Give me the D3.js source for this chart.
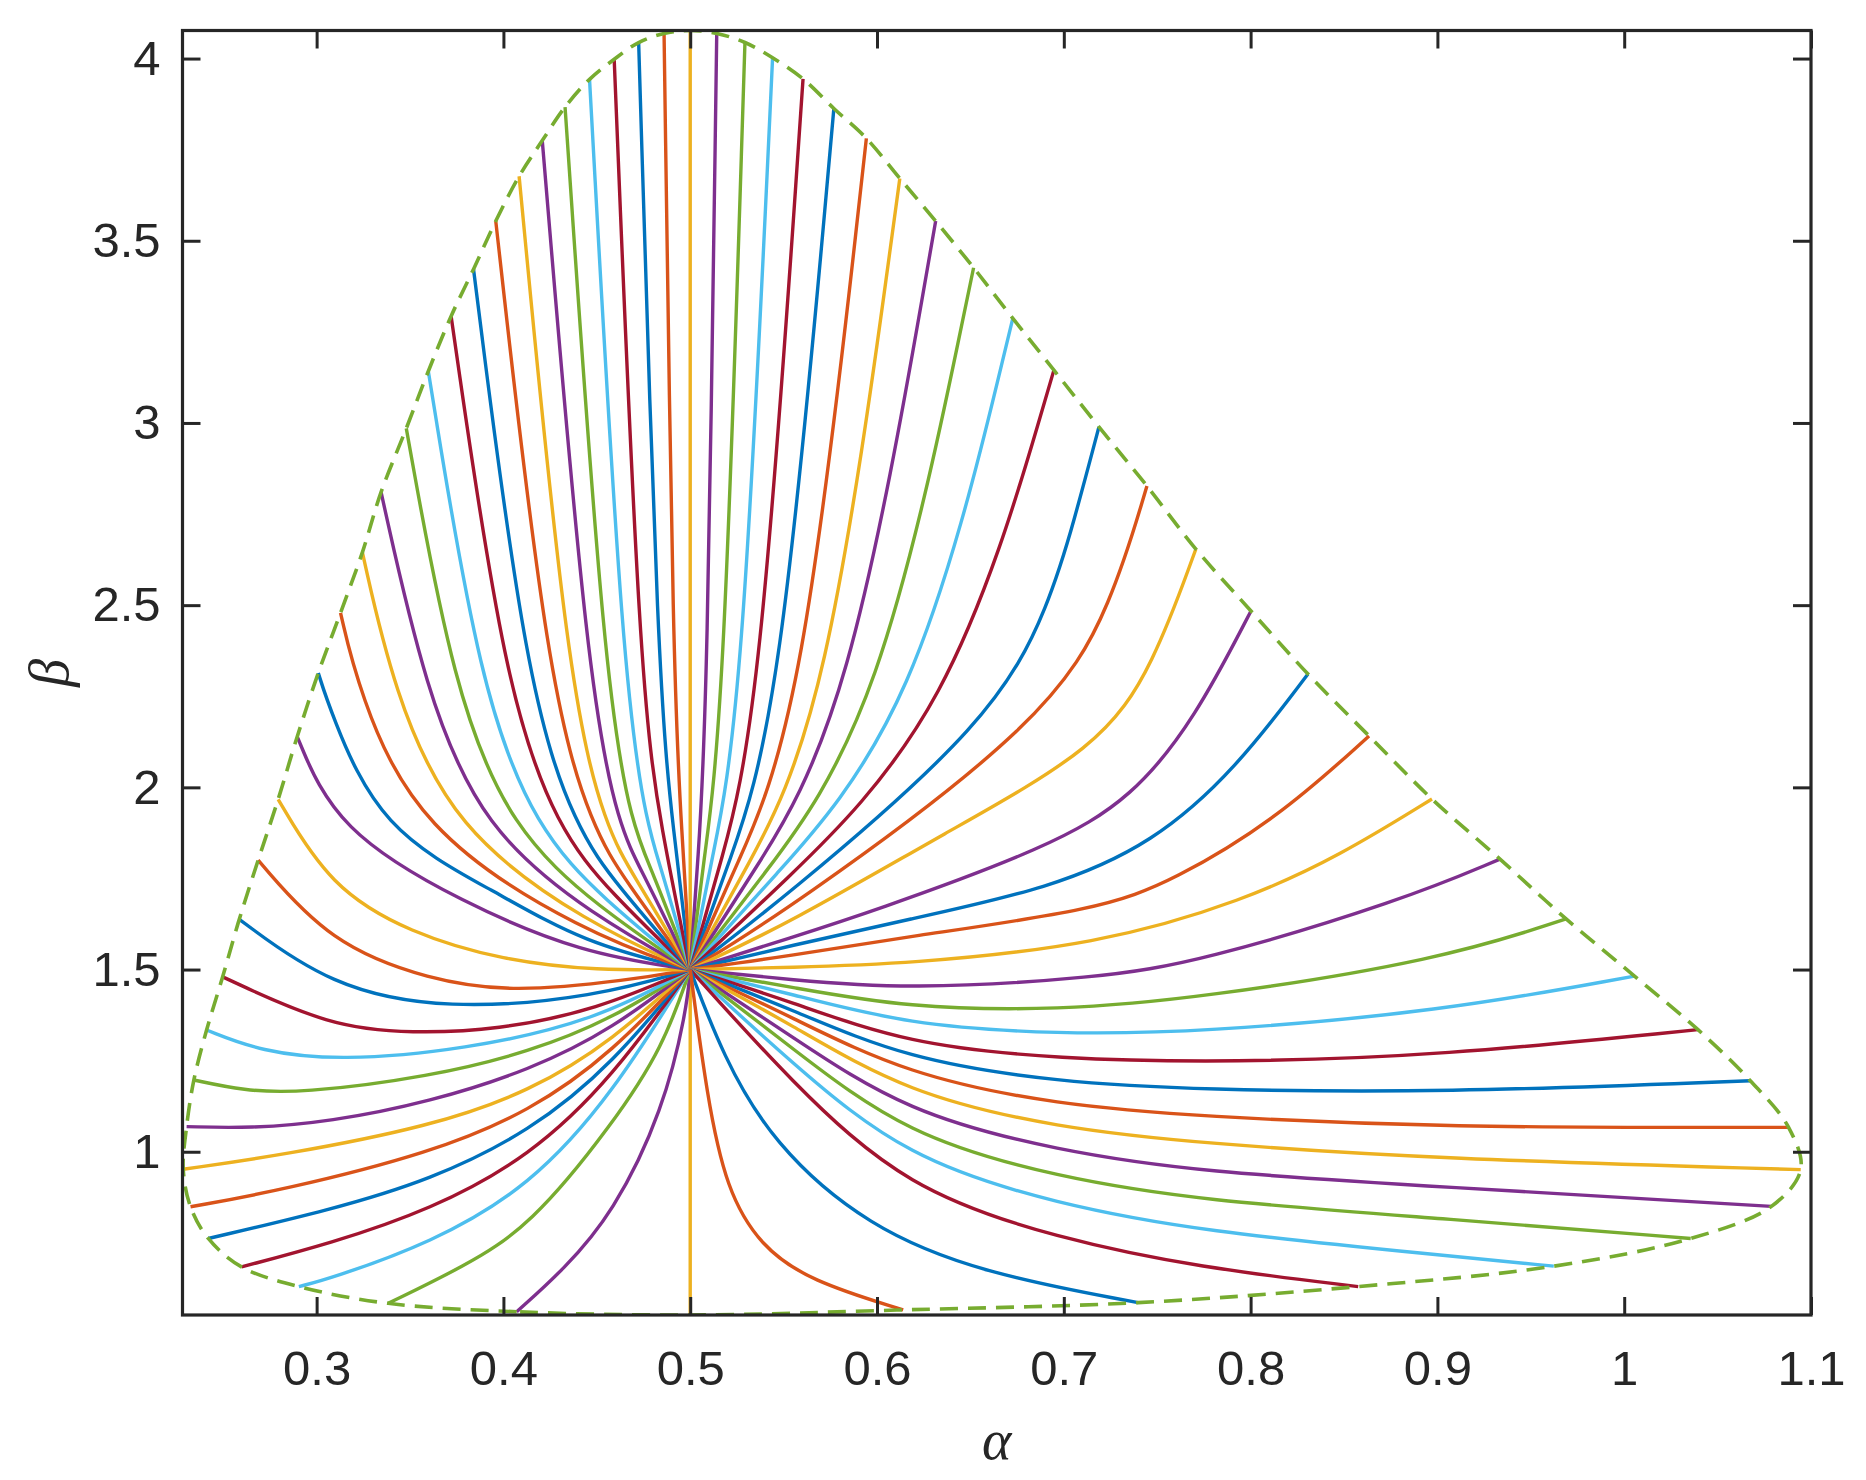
<!DOCTYPE html>
<html>
<head>
<meta charset="utf-8">
<script src="https://cdn.jsdelivr.net/npm/d3@7"></script>
<style>
  body { margin: 0; background: #fff; }
  .tick text { font-family: "Liberation Sans", Arial, sans-serif; font-size: 49px; fill: #262626; }
</style>
</head>
<body>
<svg id="chart" width="1866" height="1480"></svg>
<script>
// every curve leaves the common point and ends on the dashed boundary
const origin = [0.5, 1.5];

const xTicks = [0.3, 0.4, 0.5, 0.6, 0.7, 0.8, 0.9, 1, 1.1];
const yTicks = [1, 1.5, 2, 2.5, 3, 3.5, 4];
const xDomain = [0.2282, 1.1];
const yDomain = [0.552, 4.077];

// [colour order index, points from the boundary towards the origin]
const leftLower = [
  [3, [[0.4071, 0.561], [0.432, 0.675], [0.4588, 0.831], [0.4856, 1.114], [0.4981, 1.389]]],
  [4, [[0.3383, 0.584], [0.3785, 0.684], [0.4142, 0.794], [0.4588, 1.078], [0.4856, 1.288]]],
  [5, [[0.2905, 0.630], [0.3071, 0.652], [0.3607, 0.748], [0.4142, 0.904], [0.4588, 1.160]]],
  [6, [[0.2598, 0.684], [0.3071, 0.748], [0.3607, 0.840], [0.4142, 0.986], [0.4588, 1.206]]],
  [0, [[0.2420, 0.762], [0.3071, 0.840], [0.3607, 0.922], [0.4142, 1.055], [0.4588, 1.242]]],
  [1, [[0.2325, 0.849], [0.2821, 0.895], [0.3607, 0.996], [0.4142, 1.110], [0.4588, 1.274]]],
  [2, [[0.2286, 0.952], [0.2821, 0.991], [0.3607, 1.069], [0.4142, 1.165], [0.4588, 1.306]]],
  [3, [[0.2304, 1.069], [0.2642, 1.064], [0.3071, 1.082], [0.3607, 1.137], [0.4142, 1.224], [0.4588, 1.338]]],
  [4, [[0.2343, 1.197], [0.2607, 1.168], [0.2910, 1.160], [0.3607, 1.206], [0.4142, 1.274], [0.4588, 1.366]]],
  [5, [[0.2411, 1.334], [0.2700, 1.275], [0.3125, 1.250], [0.3785, 1.279], [0.4499, 1.360]]],
  [6, [[0.2497, 1.480], [0.3071, 1.343], [0.3517, 1.325], [0.3963, 1.334], [0.4499, 1.389]]],
  [0, [[0.2586, 1.638], [0.3071, 1.453], [0.3700, 1.388], [0.4499, 1.425]]],
  [1, [[0.2687, 1.800], [0.3071, 1.572], [0.3607, 1.471], [0.4053, 1.437], [0.4677, 1.471]]],
  [2, [[0.2794, 1.967], [0.3071, 1.727], [0.3500, 1.600], [0.4000, 1.525], [0.4500, 1.497]]]
];

const leftUpper = [
  [3, [[0.2896, 2.139], [0.3106, 1.883], [0.3785, 1.682], [0.4417, 1.545]]],
  [0, [[0.3009, 2.314], [0.3071, 2.212], [0.3338, 1.883], [0.3963, 1.712], [0.4429, 1.573]]],
  [1, [[0.3128, 2.479], [0.3223, 2.267], [0.3535, 1.883], [0.4443, 1.598]]],
  [2, [[0.3245, 2.645], [0.3410, 2.267], [0.3731, 1.883], [0.4462, 1.623]]],
  [3, [[0.3345, 2.810], [0.3580, 2.267], [0.3892, 1.883], [0.4485, 1.646]]],
  [4, [[0.3480, 2.985], [0.3732, 2.267], [0.4043, 1.883], [0.4512, 1.669]]],
  [5, [[0.3598, 3.142], [0.3874, 2.267], [0.4177, 1.883], [0.4542, 1.690]]],
  [6, [[0.3720, 3.293], [0.4008, 2.267], [0.4293, 1.883], [0.4576, 1.710]]],
  [0, [[0.3840, 3.422], [0.4124, 2.267], [0.4391, 1.883], [0.4614, 1.728]]],
  [1, [[0.3959, 3.554], [0.4240, 2.267], [0.4480, 1.883], [0.4654, 1.744]]],
  [2, [[0.4084, 3.677], [0.4347, 2.267], [0.4552, 1.883], [0.4697, 1.759]]],
  [3, [[0.4208, 3.775], [0.4454, 2.267], [0.4623, 1.883], [0.4742, 1.771]]],
  [4, [[0.4330, 3.867], [0.4543, 2.267], [0.4695, 1.883], [0.4789, 1.782]]],
  [5, [[0.4461, 3.943], [0.4642, 2.267], [0.4775, 1.883], [0.4838, 1.790]]],
  [6, [[0.4593, 3.998], [0.4731, 2.267], [0.4845, 1.883]]],
  [0, [[0.4724, 4.044], [0.4829, 2.267], [0.4910, 1.883]]],
  [1, [[0.4860, 4.069], [0.4910, 2.267], [0.4955, 1.883]]]
];

const topCentre = [
  [2, [[0.5, 4.077]]]
];

const rightUpper = [
  [3, [[0.5142, 4.069], [0.5090, 2.185], [0.5041, 1.801]]],
  [4, [[0.5293, 4.044], [0.5178, 2.185], [0.5072, 1.799]]],
  [5, [[0.5441, 4.002], [0.5274, 2.185], [0.5112, 1.796]]],
  [6, [[0.5604, 3.944], [0.5369, 2.185], [0.5162, 1.790]]],
  [0, [[0.5769, 3.863], [0.5477, 2.185], [0.5201, 1.784]]],
  [1, [[0.5943, 3.781], [0.5597, 2.185], [0.5239, 1.776]]],
  [2, [[0.6122, 3.671], [0.5728, 2.185], [0.5285, 1.764]]],
  [3, [[0.6314, 3.554], [0.5848, 2.185], [0.5321, 1.753]]],
  [4, [[0.6517, 3.426], [0.6015, 2.185], [0.5362, 1.738]]],
  [5, [[0.6727, 3.287], [0.6206, 2.185], [0.5394, 1.724]]],
  [6, [[0.6947, 3.145], [0.6397, 2.185], [0.5431, 1.706]]],
  [0, [[0.7188, 2.989], [0.7057, 2.735], [0.6926, 2.507], [0.6624, 2.185], [0.5470, 1.682]]],
  [1, [[0.7445, 2.827], [0.7259, 2.507], [0.6926, 2.189], [0.5505, 1.656]]],
  [2, [[0.7707, 2.654], [0.7481, 2.337], [0.7192, 2.109], [0.6361, 1.874], [0.5534, 1.628]]],
  [3, [[0.8002, 2.484], [0.7703, 2.189], [0.7370, 1.973], [0.6926, 1.836], [0.5951, 1.655], [0.5553, 1.590]]]
];

const rightLower = [
  [0, [[0.8307, 2.311], [0.7924, 2.052], [0.7481, 1.847], [0.6926, 1.722], [0.6156, 1.636], [0.5541, 1.566]]],
  [1, [[0.8634, 2.141], [0.8147, 1.916], [0.7592, 1.745], [0.7188, 1.664], [0.6156, 1.590], [0.5541, 1.538]]],
  [2, [[0.8971, 1.968], [0.8480, 1.813], [0.7969, 1.690], [0.7188, 1.568], [0.6156, 1.515], [0.5541, 1.506]]],
  [3, [[0.9335, 1.803], [0.8812, 1.690], [0.7730, 1.522], [0.7188, 1.477], [0.6156, 1.445], [0.5541, 1.472]]],
  [4, [[0.9689, 1.639], [0.9021, 1.527], [0.7730, 1.422], [0.6975, 1.388], [0.6156, 1.395], [0.5541, 1.452]]],
  [5, [[1.0055, 1.482], [0.9021, 1.385], [0.7730, 1.328], [0.6975, 1.322], [0.6156, 1.349], [0.5541, 1.433]]],
  [6, [[1.0395, 1.335], [0.9021, 1.264], [0.7900, 1.245], [0.6975, 1.254], [0.6156, 1.296], [0.5541, 1.412]]],
  [0, [[1.0675, 1.195], [0.9021, 1.162], [0.7730, 1.170], [0.6975, 1.191], [0.6156, 1.254], [0.5541, 1.391]]],
  [1, [[1.0880, 1.067], [0.9021, 1.066], [0.7730, 1.097], [0.6975, 1.128], [0.6156, 1.212], [0.5541, 1.370]]],
  [2, [[1.0945, 0.951], [0.9021, 0.980], [0.7730, 1.023], [0.6975, 1.065], [0.6156, 1.160], [0.5541, 1.349]]],
  [3, [[1.0788, 0.850], [0.9021, 0.904], [0.7730, 0.944], [0.6975, 1.002], [0.6156, 1.107], [0.5541, 1.317]]],
  [4, [[1.0356, 0.762], [0.9021, 0.817], [0.7730, 0.866], [0.6975, 0.929], [0.6156, 1.044], [0.5541, 1.286]]],
  [5, [[0.9623, 0.686], [0.9021, 0.716], [0.7730, 0.782], [0.6975, 0.855], [0.6156, 0.981], [0.5541, 1.244]]],
  [6, [[0.8576, 0.630], [0.7730, 0.682], [0.6975, 0.761], [0.6156, 0.897], [0.5541, 1.191]]],
  [0, [[0.7398, 0.586], [0.6566, 0.666], [0.5951, 0.792], [0.5439, 1.023], [0.5173, 1.265]]],
  [1, [[0.6140, 0.566], [0.5644, 0.645], [0.5377, 0.740], [0.5193, 0.897], [0.5090, 1.150]]]
];

const bottomCentre = [
  [2, [[0.5, 0.552]]]
];

// MATLAB default colour order
const palette = ["#0072BD", "#D95319", "#EDB120", "#7E2F8E", "#77AC30", "#4DBEEE", "#A2142F"];

const box = { left: 182.5, right: 1811, top: 30.5, bottom: 1315 };

const svg = d3.select("#chart");

const x = d3.scaleLinear().domain(xDomain).range([box.left, box.right]);
const y = d3.scaleLinear().domain(yDomain).range([box.bottom, box.top]);

svg.append("defs").append("clipPath").attr("id", "plot-clip")
  .append("rect")
  .attr("x", box.left).attr("y", box.top)
  .attr("width", box.right - box.left).attr("height", box.bottom - box.top);

const plot = svg.append("g").attr("clip-path", "url(#plot-clip)");

const line = d3.line()
  .x(d => x(d[0]))
  .y(d => y(d[1]))
  .curve(d3.curveBasis);

// boundary order: bottom, up the left side, over the top, down the right side
const groups = [bottomCentre, leftLower, leftUpper, topCentre, rightUpper, rightLower];
const allCurves = groups.flat();

plot.selectAll("path.traj")
  .data(allCurves)
  .enter()
  .append("path")
  .attr("class", "traj")
  .attr("d", d => line(d[1].concat([origin])))
  .attr("fill", "none")
  .attr("stroke", d => palette[d[0]])
  .attr("stroke-width", 3.4)
  .attr("stroke-linejoin", "round");

const boundary = allCurves.map(d => d[1][0]);

plot.append("path")
  .datum(boundary)
  .attr("d", d3.line()
    .x(d => x(d[0]))
    .y(d => y(d[1]))
    .curve(d3.curveCatmullRomClosed.alpha(0.5)))
  .attr("fill", "none")
  .attr("stroke", "#77AC30")
  .attr("stroke-width", 3.6)
  .attr("stroke-dasharray", "18,10");

// axes with inward ticks on all four sides
const tickLen = 18;
const axisColor = "#262626";

const styleAxis = g => {
  g.select(".domain").remove();
  g.selectAll(".tick line").attr("stroke", axisColor).attr("stroke-width", 3);
};

svg.append("g")
  .attr("transform", `translate(0,${box.bottom})`)
  .call(d3.axisBottom(x).tickValues(xTicks).tickSize(-tickLen).tickPadding(35).tickFormat(d3.format("")))
  .call(styleAxis);

svg.append("g")
  .attr("transform", `translate(0,${box.top})`)
  .call(d3.axisTop(x).tickValues(xTicks).tickSize(-tickLen).tickFormat(""))
  .call(styleAxis);

svg.append("g")
  .attr("transform", `translate(${box.left},0)`)
  .call(d3.axisLeft(y).tickValues(yTicks).tickSize(-tickLen).tickPadding(22).tickFormat(d3.format("")))
  .call(styleAxis);

svg.append("g")
  .attr("transform", `translate(${box.right},0)`)
  .call(d3.axisRight(y).tickValues(yTicks).tickSize(-tickLen).tickFormat(""))
  .call(styleAxis);

svg.selectAll(".tick text").attr("font-family", null).attr("font-size", null);

svg.append("rect")
  .attr("x", box.left).attr("y", box.top)
  .attr("width", box.right - box.left).attr("height", box.bottom - box.top)
  .attr("fill", "none")
  .attr("stroke", axisColor)
  .attr("stroke-width", 3.2);

svg.append("text")
  .attr("x", (box.left + box.right) / 2)
  .attr("y", 1459)
  .attr("text-anchor", "middle")
  .attr("font-family", "'Liberation Serif', 'DejaVu Serif', serif")
  .attr("font-style", "italic")
  .attr("font-size", 56)
  .attr("fill", axisColor)
  .text("α");

svg.append("text")
  .attr("transform", `translate(68,${(box.top + box.bottom) / 2}) rotate(-90)`)
  .attr("text-anchor", "middle")
  .attr("font-family", "'Liberation Serif', 'DejaVu Serif', serif")
  .attr("font-style", "italic")
  .attr("font-size", 56)
  .attr("fill", axisColor)
  .text("β");
</script>
</body>
</html>
